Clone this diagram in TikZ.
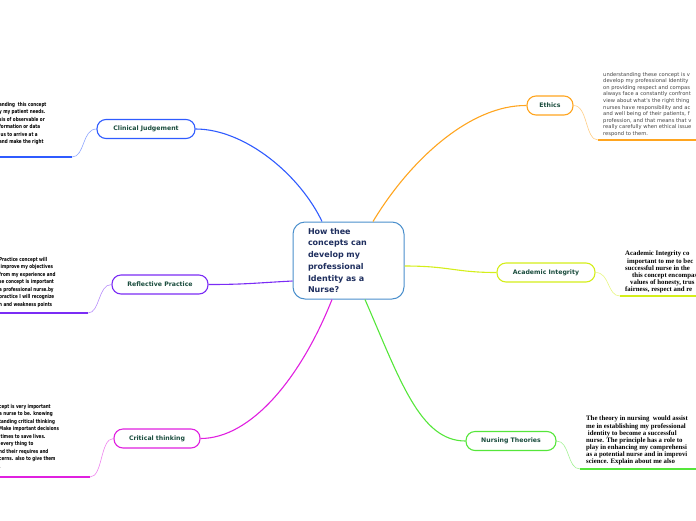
\documentclass[tikz,border=0pt]{standalone}
\usepackage{fontspec}
\newfontfamily\mapsans{DejaVu Sans}
\newfontfamily\mapnarrow[FakeStretch=0.76]{DejaVu Sans}
\newfontfamily\mapserif{Liberation Serif}
\usetikzlibrary{positioning}
\definecolor{cCentre}{HTML}{4A8FCC}
\definecolor{cCentreInk}{HTML}{1F2F5F}
\definecolor{cLabel}{HTML}{1B4D3E}
\definecolor{cClin}{HTML}{2F5BFF}
\definecolor{cRefl}{HTML}{7B2CF5}
\definecolor{cCrit}{HTML}{E020E0}
\definecolor{cEth}{HTML}{FFA51F}
\definecolor{cAcad}{HTML}{D4EE1A}
\definecolor{cTheo}{HTML}{55E63A}
\definecolor{cNote}{HTML}{444444}
\tikzset{
  centre/.style={draw=cCentre, line width=1pt, fill=white, rounded corners=12pt,
    minimum width=111pt, minimum height=77pt, text width=81pt, inner xsep=15pt,
    align=left, text=cCentreInk, font=\mapsans\bfseries\fontsize{8}{11.7}\selectfont},
  topic/.style={draw=#1, line width=1.1pt, fill=white, rounded corners=9pt,
    minimum height=19pt, inner sep=0pt, text=cLabel,
    font=\mapsans\bfseries\fontsize{6.2}{7}\selectfont},
  branch/.style={draw=#1, line width=1.1pt},
  twig/.style={draw=#1!55, line width=0.6pt},
  underbar/.style={draw=#1, line width=2pt},
  leftnote/.style={inner sep=0pt, align=left, anchor=north west,
    font=\mapnarrow\bfseries\fontsize{5.4}{7.5}\selectfont},
  ethnote/.style={inner sep=0pt, align=left, anchor=north west, text=cNote,
    font=\mapsans\fontsize{5.2}{6.6}\selectfont},
  serifnote/.style={inner sep=0pt, align=left, anchor=north west,
    font=\mapserif\bfseries\fontsize{6.8}{7.1}\selectfont},
}
\begin{document}
\begin{tikzpicture}[x=1pt, y=-1pt]
  \useasboundingbox (0,0) rectangle (696,520);
  \clip (0,0) rectangle (696,520);

  \node[centre] (central) at (348.5,260.5) {How thee\\concepts can\\develop my\\professional\\Identity as a\\Nurse?};

  \node[topic=cClin, minimum width=98pt] (clinical) at (146,129) {Clinical Judgement};
  \node[topic=cRefl, minimum width=96pt] (reflective) at (160,284.5) {Reflective Practice};
  \node[topic=cCrit, minimum width=86pt] (critical) at (157,438.5) {Critical thinking};
  \node[topic=cEth, minimum width=46pt] (ethics) at (550,105.5) {Ethics};
  \node[topic=cAcad, minimum width=98pt] (academic) at (546,272.5) {Academic Integrity};
  \node[topic=cTheo, minimum width=90pt] (theories) at (511,441) {Nursing Theories};

  \coordinate (clinicalbar) at (72,157);
  \coordinate (clinicalend) at (0,157);
  \coordinate (reflectivebar) at (88,313);
  \coordinate (reflectiveend) at (0,313);
  \coordinate (criticalbar) at (90,477);
  \coordinate (criticalend) at (0,477);
  \coordinate (ethicsbar) at (598,140);
  \coordinate (ethicsend) at (696,140);
  \coordinate (academicbar) at (620,296);
  \coordinate (academicend) at (696,296);
  \coordinate (theoriesbar) at (580,469);
  \coordinate (theoriesend) at (696,469);

  \draw[branch=cClin] ([xshift=-26.5pt]central.north) .. controls (300,175) and (245,129) .. (clinical.east);
  \draw[branch=cEth] ([xshift=24.5pt]central.north) .. controls (410,160) and (470,105) .. (ethics.west);
  \draw[branch=cAcad] ([yshift=-5.5pt]central.east) .. controls (450,266) and (455,272.5) .. (academic.west);
  \draw[branch=cRefl] ([yshift=-20.5pt]central.west) .. controls (255,283) and (245,284.5) .. (reflective.east);
  \draw[branch=cCrit] ([xshift=-16.5pt]central.south) .. controls (300,380) and (250,438.5) .. (critical.east);
  \draw[branch=cTheo] ([xshift=16.5pt]central.south) .. controls (400,380) and (420,441) .. (theories.west);

  \draw[twig=cClin] (clinical.west) .. controls (82,129) and (85,157) .. (clinicalbar);
  \draw[twig=cRefl] (reflective.west) .. controls (98,284.5) and (100,313) .. (reflectivebar);
  \draw[twig=cCrit] (critical.west) .. controls (100,438.5) and (103,477) .. (criticalbar);
  \draw[twig=cEth] (ethics.east) .. controls (588,105.5) and (585,140) .. (ethicsbar);
  \draw[twig=cAcad] (academic.east) .. controls (610,272.5) and (607,296) .. (academicbar);
  \draw[twig=cTheo] (theories.east) .. controls (570,441) and (567,469) .. (theoriesbar);

  \draw[underbar=cClin] (clinicalbar) -- (clinicalend);
  \draw[underbar=cRefl] (reflectivebar) -- (reflectiveend);
  \draw[underbar=cCrit] (criticalbar) -- (criticalend);
  \draw[underbar=cEth] (ethicsbar) -- (ethicsend);
  \draw[underbar=cAcad] (academicbar) -- (academicend);
  \draw[underbar=cTheo] (theoriesbar) -- (theoriesend);

  \node[leftnote] (clinicaltxt) at (-1,102) {anding\ \ this concept\\y my patient needs.\\sis of observable or\\formation or data\\\ us to arrive at a\\and make the right};
  \node[leftnote] (reflectivetxt) at (-1,257) {Practice concept will\\\ improve my objectives\\from my experience and\\se concept is important\\a professional nurse.by\\practice I will recognize\\h and weakness points};
  \node[leftnote] (criticaltxt) at (-1,404) {cept is very important\\a nurse to be. knowing\\tanding critical thinking\\Make important decisions\\\ times to save lives.\\\ every thing to\\nd their requires and\\cerns. also to give them\\.};
  \node[ethnote] (ethicstxt) at (603,72) {understanding these concept is v\\develop my professional Identity\\on providing respect and compas\\always face a constantly confront\\view about what's the right thing\\nurses have responsibility and ac\\and well being of their patients, f\\profession, and that means that v\\really carefully when ethical issue\\respond to them.};
  \node[serifnote] (academictxt) at (625,251) {Academic Integrity co\\\hspace*{2pt}important to me to bec\\successful nurse in the\\\hspace*{7pt}this concept encompas\\\hspace*{5pt}values of honesty, trus\\fairness, respect and re};
  \node[serifnote] (theoriestxt) at (586,416) {The theory in nursing\ \ would assist\\me in establishing my professional\\\ identity to become a successful\\nurse. The principle has a role to\\play in enhancing my comprehensi\\as a potential nurse and in improvi\\science. Explain about me also};
\end{tikzpicture}
\end{document}
